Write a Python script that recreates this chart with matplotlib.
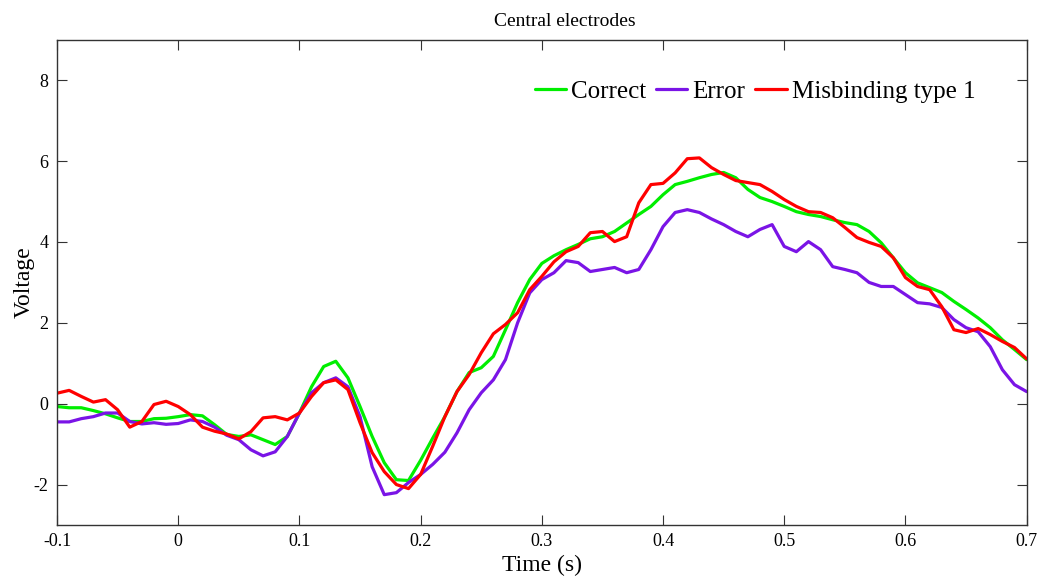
# Import necessary libraries
import numpy as np
import matplotlib
matplotlib.use("Agg")
import matplotlib.pyplot as plt

# Time axis (s), one sample every 10 ms
time = np.round(np.arange(-0.10, 0.7001, 0.01), 2)

# ERP amplitudes
correct = [
    -0.07, -0.10, -0.10, -0.17, -0.25, -0.35, -0.44, -0.44, -0.37, -0.36,
    -0.32, -0.27, -0.30, -0.52, -0.76, -0.81, -0.77, -0.89, -1.01, -0.81,
    -0.23, 0.42, 0.92, 1.05, 0.64, -0.07, -0.81, -1.46, -1.88, -1.90,
    -1.40, -0.85, -0.32, 0.30, 0.77, 0.89, 1.17, 1.83, 2.50, 3.07,
    3.47, 3.66, 3.81, 3.94, 4.08, 4.13, 4.26, 4.47, 4.68, 4.88,
    5.17, 5.42, 5.50, 5.59, 5.67, 5.72, 5.59, 5.30, 5.10, 5.00,
    4.88, 4.75, 4.68, 4.63, 4.55, 4.48, 4.43, 4.26, 3.98, 3.61,
    3.24, 2.99, 2.87, 2.75, 2.53, 2.33, 2.12, 1.88, 1.58, 1.34,
    1.09,
]
error = [
    -0.45, -0.45, -0.37, -0.32, -0.23, -0.23, -0.44, -0.50, -0.47, -0.51,
    -0.49, -0.40, -0.44, -0.58, -0.78, -0.89, -1.14, -1.29, -1.19, -0.81,
    -0.23, 0.27, 0.52, 0.64, 0.42, -0.32, -1.56, -2.25, -2.20, -1.95,
    -1.75, -1.50, -1.20, -0.72, -0.15, 0.27, 0.59, 1.09, 2.00, 2.74,
    3.07, 3.24, 3.54, 3.49, 3.27, 3.32, 3.37, 3.24, 3.32, 3.81,
    4.38, 4.73, 4.80, 4.73, 4.57, 4.43, 4.26, 4.13, 4.31, 4.43,
    3.89, 3.76, 4.01, 3.81, 3.39, 3.32, 3.24, 3.00, 2.90, 2.90,
    2.70, 2.50, 2.47, 2.38, 2.08, 1.88, 1.78, 1.41, 0.84, 0.47,
    0.30,
]
misbinding = [
    0.26, 0.33, 0.18, 0.04, 0.10, -0.15, -0.58, -0.44, -0.02, 0.06,
    -0.07, -0.27, -0.58, -0.68, -0.75, -0.87, -0.69, -0.35, -0.32, -0.40,
    -0.23, 0.18, 0.52, 0.59, 0.35, -0.47, -1.21, -1.68, -2.00, -2.10,
    -1.75, -1.05, -0.32, 0.30, 0.72, 1.26, 1.73, 1.96, 2.25, 2.82,
    3.15, 3.51, 3.76, 3.89, 4.23, 4.26, 4.01, 4.13, 4.97, 5.42,
    5.45, 5.71, 6.06, 6.08, 5.84, 5.67, 5.52, 5.47, 5.42, 5.25,
    5.05, 4.88, 4.75, 4.73, 4.60, 4.36, 4.11, 3.99, 3.89, 3.61,
    3.12, 2.90, 2.82, 2.40, 1.83, 1.76, 1.86, 1.71, 1.54, 1.39,
    1.11,
]

labels = ["Correct", "Error", "Misbinding type 1"]
colors = ["#00ee00", "#7a14e6", "#ff0000"]

plt.rcParams["font.family"] = ["Liberation Serif", "DejaVu Serif"]
plt.rcParams["axes.unicode_minus"] = False

fig = plt.figure(figsize=(10.37, 5.81), dpi=100)
ax = fig.add_axes([0.055, 0.0964, 0.935, 0.835])

for series, label, color in zip([correct, error, misbinding], labels, colors):
    ax.plot(time, series, color=color, linewidth=2.3, label=label,
            solid_joinstyle="round", solid_capstyle="round")

ax.set_xlim(-0.1, 0.7)
ax.set_ylim(-3, 9)
ax.set_xticks(np.round(np.arange(-0.1, 0.71, 0.1), 1))
ax.set_xticklabels(["-0.1", "0", "0.1", "0.2", "0.3", "0.4", "0.5", "0.6", "0.7"])
ax.set_yticks([-2, 0, 2, 4, 6, 8])

# MATLAB-like box with inward ticks on every side
ax.tick_params(direction="in", top=True, right=True, length=7, width=0.8,
               labelsize=13, pad=6, colors="#333333", labelcolor="black")
for spine in ax.spines.values():
    spine.set_linewidth(1.0)
    spine.set_color("#333333")

ax.set_title("Central electrodes", fontsize=14, pad=10, x=0.524)
ax.set_xlabel("Time (s)", fontsize=17, labelpad=3)
ax.set_ylabel("Voltage", fontsize=17, labelpad=-1)

ax.legend(loc="center right", bbox_to_anchor=(0.947, 0.893), ncol=3,
          frameon=False, fontsize=18, handlelength=1.25, handletextpad=0.2,
          columnspacing=0.4, borderpad=0, borderaxespad=0)

fig.savefig("out.png", dpi=100)
